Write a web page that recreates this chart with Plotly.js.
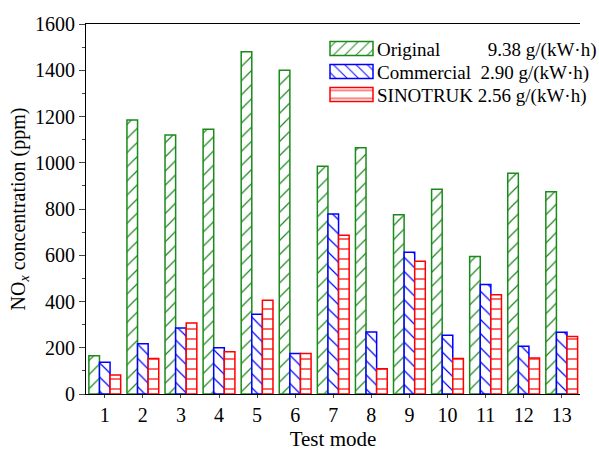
<!DOCTYPE html>
<html><head><meta charset="utf-8">
<script src="https://cdn.plot.ly/plotly-3.0.1.min.js"></script>
<style>html,body{margin:0;padding:0;background:#fff}</style>
</head><body><div id="chart" style="width:599px;height:452px"></div>
<script>
const modes = [1,2,3,4,5,6,7,8,9,10,11,12,13];
const original   = [165,1185,1120,1145,1480,1400,985,1065,775,885,595,955,875];
const commercial = [137,217,285,200,345,175,778,268,613,254,473,207,267];
const sinotruk   = [82,154,307,183,405,175,686,109,574,153,429,156,249];
const names = ["Original\u00A0\u00A0\u00A0\u00A0\u00A0\u00A0\u00A0\u00A0\u00A0\u00A09.38 g/(kW\u00B7h)",
               "Commercial\u00A0\u00A02.90 g/(kW\u00B7h)",
               "SINOTRUK 2.56 g/(kW\u00B7h)"];
const colors = ["#1a8a1a","#0000ff","#ff0000"];
const shapes = ["/","\\","-"];
const series = [original, commercial, sinotruk];
const traces = series.map((v,i)=>({
  type:'bar', x:modes, y:v, name:names[i],
  marker:{color:'#ffffff', line:{color:colors[i], width:1.5},
    pattern:{shape:shapes[i], fgcolor:colors[i], bgcolor:'#ffffff', size:10, solidity:0.12, fillmode:'replace'}}
}));
const layout = {
  width:599, height:452, margin:{l:86,r:0,t:24,b:58},
  paper_bgcolor:'#fff', plot_bgcolor:'#fff',
  font:{family:'Liberation Serif, Times New Roman, serif', size:20, color:'#000'},
  barmode:'group', bargap:0.165, bargroupgap:0,
  showlegend:true,
  legend:{x:(333-86)/513, y:0.985, xanchor:'left', yanchor:'top', bgcolor:'rgba(0,0,0,0)',
    font:{size:19}, tracegroupgap:0, itemwidth:40},
  xaxis:{range:[0.507,13.48], tickmode:'array', tickvals:modes, ticktext:modes.map(String),
    showline:true, linecolor:'#000', linewidth:1, mirror:true, ticks:'outside', ticklen:3,
    showgrid:false, zeroline:false, tickfont:{size:20},
    title:{text:'Test mode', font:{size:21}, standoff:6}},
  yaxis:{range:[0,1600], tickvals:[0,200,400,600,800,1000,1200,1400,1600],
    showline:true, linecolor:'#000', linewidth:1, ticks:'outside', ticklen:6,
    minor:{dtick:100, ticks:'outside', ticklen:3, showgrid:false},
    showgrid:false, zeroline:false, tickfont:{size:20},
    title:{text:'NO<sub><i>x</i></sub> concentration (ppm)', font:{size:20}, standoff:4}}
};
function parseT(s){const m=/translate\(\s*([-\d.e]+)[ ,]+([-\d.e]+)/.exec(s||'');return m?[+m[1],+m[2]]:[0,0];}
Plotly.newPlot('chart', traces, layout, {displayModeBar:false, staticPlot:true}).then(gd=>{
  const items = Array.from(gd.querySelectorAll('.legend .traces'));
  // tighten row spacing to match the reference
  let y0 = null;
  items.forEach((g,i)=>{
    const t = parseT(g.getAttribute('transform'));
    if (y0===null) y0 = t[1];
    g.setAttribute('transform', 'translate('+t[0]+','+(y0+i*23)+')');
  });
  // widen legend swatches to the reference's wide rectangles, right edge just before the text
  items.forEach(g=>{
    const txt = g.querySelector('text.legendtext');
    const pts = g.querySelector('.legendpoints');
    const path = pts && pts.querySelector('path');
    if(!txt||!path) return;
    path.setAttribute('d','M21.5,7H-21.5V-7H21.5Z');
    const old = parseT(pts.getAttribute('transform'));
    const tl = txt.getBoundingClientRect().left;
    const pr = path.getBoundingClientRect().right;
    const dx = (tl - 4) - pr;
    pts.setAttribute('transform','translate('+(old[0]+dx)+','+old[1]+')');
  });
  // nudge the whole legend so the swatches start where the reference's do
  const leg = gd.querySelector('g.legend');
  if (leg) {
    const firstPath = gd.querySelector('.legend .legendpoints path');
    const shift = 330 - firstPath.getBoundingClientRect().left;
    const t = parseT(leg.getAttribute('transform'));
    leg.setAttribute('transform','translate('+(t[0]+shift)+','+t[1]+')');
  }
});
</script></body></html>
